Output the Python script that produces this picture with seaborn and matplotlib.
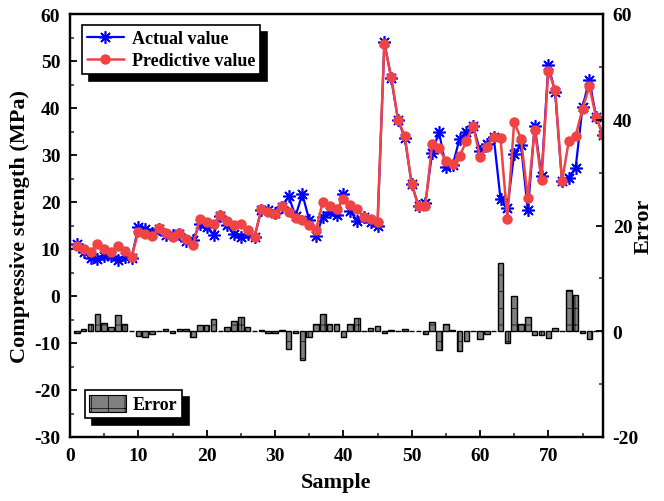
import matplotlib
matplotlib.use('Agg')
import matplotlib.pyplot as plt
from matplotlib.patches import Patch
from matplotlib.ticker import MultipleLocator
import pandas as pd
import seaborn as sns

sample = list(range(1, 79))
actual = [11.0, 9.4, 8.0, 7.8, 8.5, 8.6, 7.7, 8.3, 8.1, 14.6,
          14.3, 13.3, 14.3, 13.0, 12.9, 13.1, 11.7, 12.0, 15.3, 14.7,
          13.0, 17.1, 15.2, 13.1, 12.6, 13.2, 12.6, 18.3, 18.2, 17.7,
          18.9, 21.2, 17.0, 21.7, 16.2, 12.7, 16.9, 17.8, 17.2, 21.7,
          18.1, 16.0, 16.9, 15.7, 14.8, 54.0, 46.4, 37.5, 33.6, 23.8,
          19.1, 19.8, 30.5, 34.9, 27.5, 27.8, 33.4, 34.9, 36.2, 30.9,
          32.4, 33.9, 20.7, 18.7, 30.3, 32.2, 18.2, 36.2, 25.5, 49.2,
          43.3, 24.4, 25.2, 27.3, 40.2, 46.0, 38.0, 34.3]
predicted = [10.6, 9.9, 9.3, 11.1, 10.1, 9.4, 10.7, 9.6, 8.2, 13.7,
             13.2, 12.7, 14.4, 13.4, 12.5, 13.5, 12.1, 10.9, 16.4, 15.8,
             15.3, 17.2, 16.0, 15.1, 15.3, 14.0, 12.6, 18.5, 17.9, 17.4,
             19.1, 17.9, 16.7, 16.2, 15.1, 14.0, 20.1, 19.1, 18.5, 20.6,
             19.4, 18.5, 16.9, 16.4, 15.7, 53.6, 46.7, 37.5, 34.0, 23.8,
             19.2, 19.2, 32.3, 31.4, 28.8, 28.1, 29.7, 33.0, 36.2, 29.5,
             31.8, 33.9, 33.6, 16.4, 37.0, 33.5, 20.9, 35.4, 24.7, 47.9,
             43.9, 24.4, 33.0, 34.1, 39.8, 44.6, 38.0, 34.3]
error = [-0.4, 0.5, 1.3, 3.3, 1.6, 0.8, 3.0, 1.3, 0.1, -0.9,
         -1.1, -0.6, 0.1, 0.4, -0.4, 0.4, 0.4, -1.1, 1.1, 1.1,
         2.3, 0.1, 0.8, 2.0, 2.7, 0.8, 0.0, 0.2, -0.3, -0.3,
         0.2, -3.3, -0.3, -5.5, -1.1, 1.3, 3.2, 1.3, 1.3, -1.1,
         1.3, 2.5, 0.0, 0.7, 0.9, -0.4, 0.3, 0.0, 0.4, 0.0,
         0.1, -0.6, 1.8, -3.5, 1.3, 0.3, -3.7, -1.9, 0.0, -1.4,
         -0.6, 0.0, 12.9, -2.3, 6.7, 1.3, 2.7, -0.8, -0.8, -1.3,
         0.6, 0.0, 7.8, 6.8, -0.4, -1.4, 0.0, 0.0]

df = pd.DataFrame({'Sample': sample, 'Actual value': actual,
                   'Predictive value': predicted, 'Error': error})

sns.set_theme(style='ticks')
plt.rcParams['font.family'] = ['Liberation Serif', 'DejaVu Serif']
plt.rcParams['font.weight'] = 'bold'
plt.rcParams['axes.labelweight'] = 'bold'
plt.rcParams['axes.labelcolor'] = 'black'
plt.rcParams['text.color'] = 'black'
plt.rcParams['axes.unicode_minus'] = False
plt.rcParams['hatch.linewidth'] = 0.5

fig = plt.figure(figsize=(6.64, 5.02), dpi=100)
ax = fig.add_axes([70 / 664, 1 - 438 / 502, 533 / 664, 423 / 502])
ax2 = ax.twinx()

sns.barplot(data=df, x='Sample', y='Error', ax=ax2, native_scale=True,
            width=0.8, color='#808080', saturation=1, edgecolor='black',
            linewidth=1.0, hatch='+', errorbar=None)

sns.lineplot(data=df, x='Sample', y='Actual value', ax=ax, color='#0000FF',
             lw=1.6, marker=(8, 2, 0), markersize=9, markeredgewidth=1.2,
             markeredgecolor='#0000FF', label='Actual value', legend=False)
sns.lineplot(data=df, x='Sample', y='Predictive value', ax=ax,
             color='#F04444', lw=1.8, marker='o', markersize=7.5,
             markeredgewidth=0, label='Predictive value', legend=False)

ax.set_xlim(0, 78)
ax.set_ylim(-30, 60)
ax2.set_ylim(-20, 60)
ax.xaxis.set_major_locator(MultipleLocator(10))
ax.xaxis.set_minor_locator(MultipleLocator(5))
ax.yaxis.set_major_locator(MultipleLocator(10))
ax.yaxis.set_minor_locator(MultipleLocator(5))
ax2.yaxis.set_major_locator(MultipleLocator(20))
ax2.yaxis.set_minor_locator(MultipleLocator(10))

for a in (ax, ax2):
    a.tick_params(which='major', direction='in', length=5, width=1.3,
                  labelsize=14, colors='black', pad=7)
    a.tick_params(which='minor', direction='in', length=3, width=1.1)
    for s in a.spines.values():
        s.set_linewidth(1.6)
        s.set_color('black')
ax.tick_params(axis='x', top=False, which='both')
ax.tick_params(axis='y', right=False, which='both')
ax2.tick_params(axis='x', top=False, bottom=False, which='both')

ax.set_xlabel('Sample', fontsize=16, labelpad=6)
ax.set_ylabel('Compressive strength (MPa)', fontsize=16, labelpad=3)
ax2.set_xlabel('')
ax2.set_ylabel('Error', fontsize=16, labelpad=-4)

handles, labels = ax.get_legend_handles_labels()
leg = ax.legend(handles, labels, loc='upper left',
                bbox_to_anchor=(0.0225, 0.974), borderaxespad=0,
                fancybox=False, edgecolor='black', framealpha=1,
                handlelength=2.0, borderpad=0.3, labelspacing=0.25,
                handletextpad=0.45,
                shadow={'ox': 5, 'oy': -5, 'color': 'black', 'alpha': 1},
                prop={'weight': 'bold', 'size': 13})
leg.get_frame().set_linewidth(1.2)

err_patch = Patch(facecolor='#808080', edgecolor='black', hatch='+',
                  linewidth=0.8, label='Error')
leg2 = ax2.legend([err_patch], ['Error'], loc='lower left',
                  bbox_to_anchor=(0.028, 0.045), borderaxespad=0,
                  fancybox=False, edgecolor='black', framealpha=1,
                  handlelength=2.0, handleheight=1.1, borderpad=0.25,
                  handletextpad=0.4,
                  shadow={'ox': 5, 'oy': -5, 'color': 'black', 'alpha': 1},
                  prop={'weight': 'bold', 'size': 13})
leg2.get_frame().set_linewidth(1.2)

fig.savefig('out.png', dpi=100)
